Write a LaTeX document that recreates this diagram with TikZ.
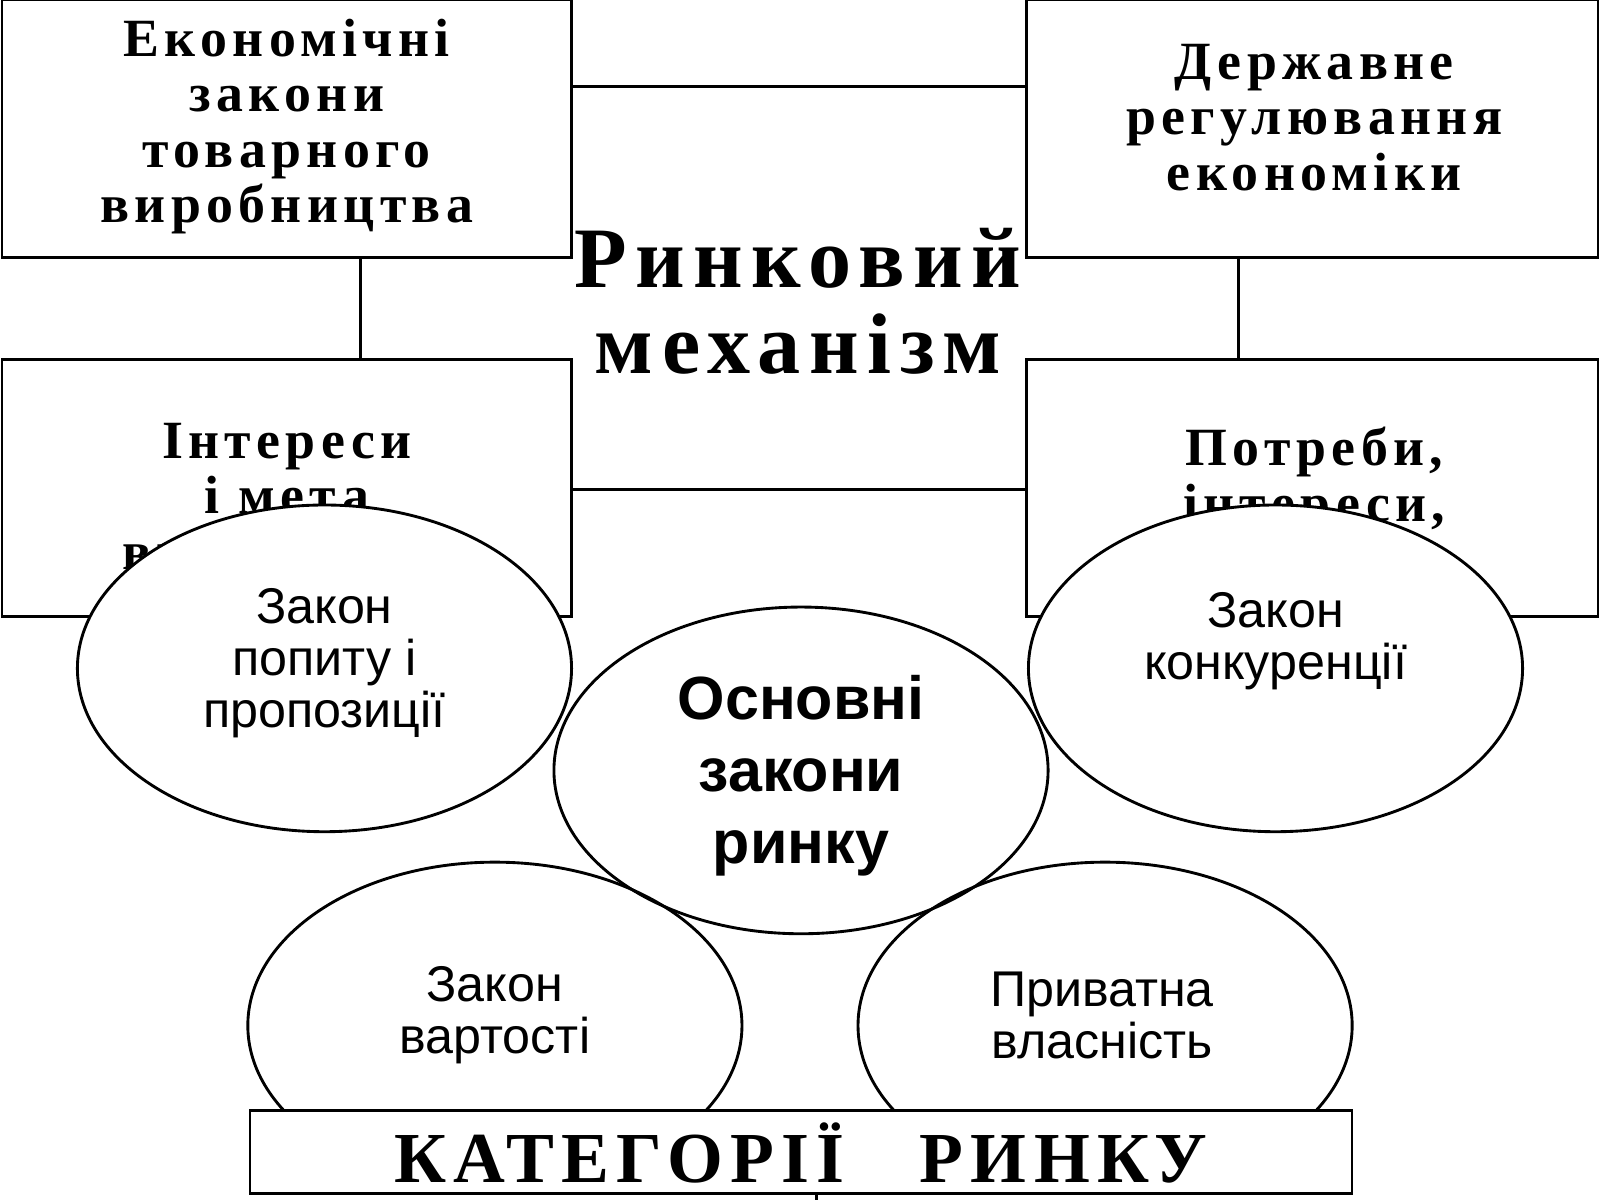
\documentclass[tikz,border=0pt]{standalone}
\usepackage{fontspec}
\setmainfont{Liberation Serif}
\newfontfamily\boxfont[LetterSpace=10]{Liberation Serif}
\newfontfamily\ellfont{Liberation Sans}
\usetikzlibrary{shapes.geometric}
\begin{document}
\begin{tikzpicture}[x=0.01cm,y=-0.01cm,
  rbox/.style={draw,line width=0.8pt,fill=white},
  btext/.style={align=center,font=\boxfont\bfseries\fontsize{15}{15.5}\selectfont},
  ell/.style={draw,line width=0.8pt,fill=white,ellipse,minimum width=4.84cm,minimum height=3.2cm,inner sep=0pt},
  etext/.style={align=center,font=\ellfont\fontsize{14}{14.5}\selectfont},
  conn/.style={line width=0.8pt}]
\useasboundingbox (0,0) rectangle (1568,1176);
\fill[white] (0,0) rectangle (1568,1176);
\draw[rbox] (2,0) rectangle (560,252);
\draw[rbox] (1006,0) rectangle (1566,252);
\draw[rbox] (2,352) rectangle (560,604);
\draw[rbox] (1006,352) rectangle (1566,604);
\node[btext] (tl) at (281,124) {Економічні\\закони\\товарного\\виробництва};
\node[btext] (tr) at (1288,115) {Державне\\регулювання\\економіки};
\node[btext] (ml) at (281,492) {Інтереси\\і мета\\виробників};
\node[btext] (mr) at (1288,492) {Потреби,\\інтереси,\\мета};
\coordinate (a1) at (560,85); \coordinate (a2) at (1006,85);
\coordinate (b1) at (353,252); \coordinate (b2) at (353,352);
\coordinate (c1) at (1214,252); \coordinate (c2) at (1214,352);
\coordinate (d1) at (560,480); \coordinate (d2) at (1006,480);
\draw[conn] (a1)--(a2); \draw[conn] (b1)--(b2); \draw[conn] (c1)--(c2); \draw[conn] (d1)--(d2);
\node[align=center,font=\boxfont\bfseries\fontsize{24}{24}\selectfont] (title) at (782,295) {Ринковий\\механізм};
% ellipses fills
\foreach \p in {(318,655),(785,755),(1250,655),(485,1005),(1083,1005)}
  \fill[white] \p ellipse (242 and 160);
\node[ell,fill=none] (e1) at (318,655) {};
\node[ell,fill=none] (e2) at (785,755) {};
\node[ell,fill=none] (e3) at (1250,655) {};
\node[ell,fill=none] (e4) at (485,1005) {};
\node[ell,fill=none] (e5) at (1083,1005) {};
\node[etext] at (318,650) {Закон\\попиту і\\пропозиції};
\node[etext,font=\ellfont\bfseries\fontsize{17}{20}\selectfont] at (785,760) {Основні\\закони\\ринку};
\node[etext] at (1250,628) {Закон\\конкуренції};
\node[etext] at (485,995) {Закон\\вартості};
\node[etext] at (1080,995) {Приватна\\власність};
\draw[rbox] (245,1088) rectangle (1325,1170);
\node[font=\boxfont\bfseries\fontsize{20}{20}\selectfont] (cat) at (785,1130) {КАТЕГОРІЇ\ \ \ РИНКУ};
\coordinate (z1) at (800,1170); \coordinate (z2) at (800,1176);
\draw[conn] (z1)--(z2);
\end{tikzpicture}
\end{document}
